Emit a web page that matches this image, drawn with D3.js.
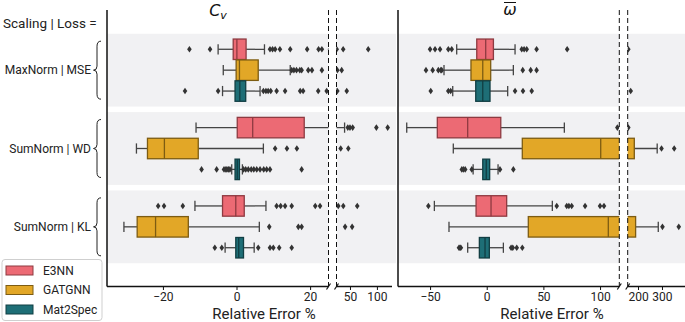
<!DOCTYPE html>
<html><head><meta charset="utf-8">
<script src="https://cdn.jsdelivr.net/npm/d3@7"></script>
<style>body{margin:0;background:#fff}svg{display:block;font-family:Roboto,"DejaVu Sans",sans-serif}</style>
</head><body><svg id="c" width="685" height="322"></svg>
<script>
const groups = ["MaxNorm | MSE", "SumNorm | WD", "SumNorm | KL"];
const models = ["E3NN", "GATGNN", "Mat2Spec"];
const colors = ["#ec6a74", "#e2a727", "#1e6e76"];
const edgeColors = ["#8e3a41", "#7d5c12", "#113e43"];

// box stats per group, per model: [lowWhisker, q1, median, q3, highWhisker]
const cvStats = [
  [[-5, -0.9, 0.1, 2.6, 7.6], [-3.6, -0.1, 0.8, 5.9, 14.6], [-3.8, -0.4, 0.9, 2.5, 6.4]],
  [[-11, 0.2, 4.4, 18.4, 40], [-27.2, -24.2, -19.6, -10.4, 7.3], [-1.3, -0.4, 0.2, 0.8, 1.6]],
  [[-11.3, -3.8, -0.2, 2.1, 8], [-30.6, -27, -22, -13.1, 6.2], [-3.1, -0.2, 0.6, 1.9, 4.8]]
];
const cvFliers = [
  [[-12.8, -7.2, 9.1, 9.8, 10.5, 11.8, 14.6, 19.2, 22.3, 23.2, 25.4, 37.4, 83.9],
   [15, 15.6, 16.3, 17.2, 17.7, 19.5, 20.5, 23.2, 26.5, 34.6],
   [-14, -5, 7.3, 8, 8.6, 9.3, 10.9, 13.2, 17.3, 18.1, 22.2, 24.5, 26.5, 44]],
  [[46, 50, 55, 99, 120],
   [10.5, 13.7, 16.4, 32.8, 46.9],
   [-9.5, -5.4, -3.4, -2.9, -2.6, -2.2, -1.8, 1.9, 2.5, 3.2, 4.0, 4.7, 5.5, 6.4, 7.4, 8.2, 9.1, 17.7]],
  [[-21.3, -19.7, -14.6, 10.9, 12, 13.2, 15, 21.4, 22.7, 28.3, 37.6, 63.5],
   [8.9, 16.8, 17.7, 41, 54],
   [-5.9, -4, 5.9, 9.1, 10, 11.6, 15]]
];
const omegaStats = [
  [[-26.5, -8.8, -0.9, 5.9, 25], [-37.7, -13.9, -3.5, 3.5, 23.5], [-30, -9.7, -3.5, 2.9, 18.5]],
  [[-70.6, -43.6, -16.8, 12.4, 68.5], [-29.5, 31.4, 100.6, 184.5, 280], [-12, -3.5, -0.4, 2.6, 10]],
  [[-46.2, -9.4, 3.8, 17.6, 57.9], [-33.3, 36.7, 107.3, 190, 284.5], [-16.8, -6.5, -1.5, 2.3, 14.7]]
];
const omegaFliers = [
  [[-50, -45.6, -41.2, -33.9, -30.9, 30.9, 33, 35.3, 44, 71, 159.5],
   [-53.6, -47.7, -42.7, -40.5, -39.7, 31.8, 38.8, 44],
   [-49.4, -33.9, -31.8, 25, 32, 39.7, 169.5]],
  [[115.3, 159.5],
   [298, 351],
   [-22, -20.6, -19, -13.2, 11.7, 23.5]],
  [[-51.5, 61.8, 70.6, 72.5, 75, 86.8, 100, 103.5],
   [302, 370],
   [-24.5, -23.6, -22.8, 21.5, 23, 26.5, 31.4]]
];
const cvTicksMain = [-20, 0, 20], cvTicksBreak = [50, 100];
const omegaTicksMain = [-50, 0, 50, 100], omegaTicksBreak = [200, 300];

const svg = d3.select("#c");
const defs = svg.append("defs");
const axisY = 286.5, topY = 10;
const y = d3.scaleBand().domain(groups).range([31, 266]);
const bw = y.bandwidth();
const hueStep = bw * 0.8 / 3;
const boxH = hueStep * 0.98;
let clipN = 0;
const diamond = "M0,-3.3L2.3,0L0,3.3L-2.3,0Z";

function drawSection(stats, fliers, sec) {
  const x = d3.scaleLinear().domain(sec.domain).range(sec.range);
  const id = "clip" + (clipN++);
  defs.append("clipPath").attr("id", id).append("rect")
    .attr("x", sec.range[0]).attr("y", 0).attr("width", sec.clipEnd - sec.range[0]).attr("height", axisY);
  const g = svg.append("g").attr("clip-path", `url(#${id})`);
  groups.forEach((grp, gi) => {
    g.append("rect").attr("x", sec.range[0]).attr("width", sec.clipEnd - sec.range[0])
      .attr("y", y(grp) + bw * 0.035).attr("height", bw * 0.93).attr("fill", "#f1f1f3");
  });
  groups.forEach((grp, gi) => {
    models.forEach((m, mi) => {
      const s = stats[gi][mi];
      const cy = y(grp) + bw / 2 + (mi - 1) * hueStep;
      const gg = g.append("g");
      gg.append("line").attr("x1", x(s[0])).attr("x2", x(s[1])).attr("y1", cy).attr("y2", cy)
        .attr("stroke", "#444").attr("stroke-width", 1.3);
      gg.append("line").attr("x1", x(s[3])).attr("x2", x(s[4])).attr("y1", cy).attr("y2", cy)
        .attr("stroke", "#444").attr("stroke-width", 1.3);
      [s[0], s[4]].forEach(v => gg.append("line").attr("x1", x(v)).attr("x2", x(v))
        .attr("y1", cy - boxH / 4).attr("y2", cy + boxH / 4).attr("stroke", "#444").attr("stroke-width", 1.3));
      gg.append("rect").attr("x", x(s[1])).attr("width", x(s[3]) - x(s[1]))
        .attr("y", cy - boxH / 2).attr("height", boxH)
        .attr("fill", colors[mi]).attr("stroke", edgeColors[mi]).attr("stroke-width", 1.3);
      gg.append("line").attr("x1", x(s[2])).attr("x2", x(s[2])).attr("y1", cy - boxH / 2).attr("y2", cy + boxH / 2)
        .attr("stroke", edgeColors[mi]).attr("stroke-width", 1.3);
      gg.selectAll("path.f").data(fliers[gi][mi]).join("path").attr("class", "f")
        .attr("d", diamond).attr("transform", d => `translate(${x(d)},${cy})`).attr("fill", "#333");
    });
  });
  // bottom spine
  svg.append("line").attr("x1", sec.range[0]).attr("x2", sec.spineEnd).attr("y1", axisY).attr("y2", axisY)
    .attr("stroke", "#111").attr("stroke-width", 1.3);
  const ax = svg.append("g").attr("transform", `translate(0,${axisY})`)
    .call(d3.axisBottom(x).tickValues(sec.ticks).tickSize(3.5).tickPadding(2).tickFormat(d3.format("d")));
  ax.select(".domain").remove();
  ax.selectAll("line").attr("stroke", "#111");
  ax.selectAll("text").attr("font-size", 12).attr("fill", "#222").attr("font-family", "Roboto, sans-serif");
  return x;
}

function drawPanel(stats, fliers, main, brk, leftX) {
  drawSection(stats, fliers, main);
  drawSection(stats, fliers, brk);
  svg.append("line").attr("x1", leftX).attr("x2", leftX).attr("y1", topY).attr("y2", axisY)
    .attr("stroke", "#111").attr("stroke-width", 1.5);
  [main.range[1], brk.range[0]].forEach(xx => {
    svg.append("line").attr("x1", xx).attr("x2", xx).attr("y1", topY).attr("y2", axisY)
      .attr("stroke", "#111").attr("stroke-width", 1).attr("stroke-dasharray", "5,3");
    svg.append("line").attr("x1", xx - 2).attr("x2", xx + 2).attr("y1", axisY + 3).attr("y2", axisY - 3)
      .attr("stroke", "#111").attr("stroke-width", 1.2);
  });
}

drawPanel(cvStats, cvFliers,
  {domain: [-35.2, 25], range: [107, 328.5], clipEnd: 328.5, spineEnd: 328.5, ticks: cvTicksMain},
  {domain: [25, 128], range: [336.5, 392], clipEnd: 396, spineEnd: 392, ticks: cvTicksBreak}, 107);
drawPanel(omegaStats, omegaFliers,
  {domain: [-78.3, 117], range: [398, 619.3], clipEnd: 619.3, spineEnd: 619.3, ticks: omegaTicksMain},
  {domain: [157, 396], range: [627.7, 685], clipEnd: 685, spineEnd: 685, ticks: omegaTicksBreak}, 398);

// titles
const t1 = svg.append("text").attr("x", 218).attr("y", 16).attr("text-anchor", "middle")
  .attr("font-size", 16).attr("font-style", "italic").attr("font-family", "DejaVu Sans, sans-serif").attr("fill", "#111");
t1.append("tspan").text("C");
t1.append("tspan").text("v").attr("font-size", 11).attr("dy", 3);
svg.append("text").attr("x", 510).attr("y", 15).attr("text-anchor", "middle")
  .attr("font-size", 16).attr("font-style", "italic").attr("font-family", "DejaVu Sans, sans-serif").attr("fill", "#111").text("ω");
svg.append("line").attr("x1", 504).attr("x2", 516).attr("y1", 2.5).attr("y2", 2.5).attr("stroke", "#111").attr("stroke-width", 1);

// x labels
[[264, "Relative Error %"], [552, "Relative Error %"]].forEach(([xx, t]) =>
  svg.append("text").attr("x", xx).attr("y", 319).attr("text-anchor", "middle")
    .attr("font-size", 15).attr("fill", "#222").text(t));

// group labels + braces
svg.append("text").attr("x", 3).attr("y", 27.5).attr("font-size", 13.5).attr("fill", "#222").text("Scaling | Loss =");
groups.forEach(grp => {
  const cy = y(grp) + bw / 2;
  svg.append("text").attr("x", 91).attr("y", cy + 4.3).attr("text-anchor", "end")
    .attr("font-size", 12).attr("fill", "#222").text(grp);
  const t = cy - 29, b = cy + 29;
  const p = `M101,${t} Q97,${t} 97,${t + 5} L97,${cy - 4} Q97,${cy} 93.5,${cy} Q97,${cy} 97,${cy + 4} L97,${b - 5} Q97,${b} 101,${b}`;
  svg.append("path").attr("d", p).attr("fill", "none").attr("stroke", "#222").attr("stroke-width", 1);
});

// legend
const lg = svg.append("g");
lg.append("rect").attr("x", 2).attr("y", 259.5).attr("width", 100).attr("height", 61).attr("rx", 3)
  .attr("fill", "#fff").attr("stroke", "#cfcfcf").attr("stroke-width", 1);
models.forEach((m, i) => {
  const cy = 270.5 + i * 19.5;
  lg.append("rect").attr("x", 6).attr("y", cy - 4.5).attr("width", 27).attr("height", 9)
    .attr("fill", colors[i]).attr("stroke", edgeColors[i]).attr("stroke-width", 1);
  lg.append("text").attr("x", 43).attr("y", cy + 4.3).attr("font-size", 12).attr("fill", "#222").text(m);
});
</script></body></html>
